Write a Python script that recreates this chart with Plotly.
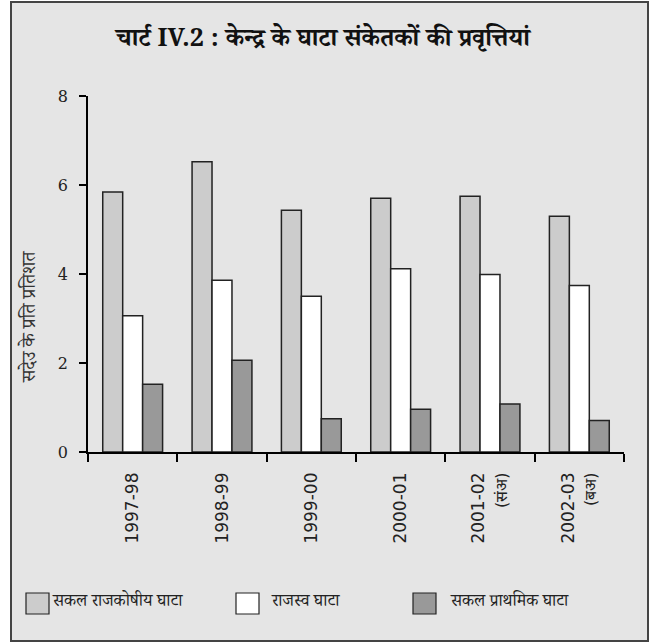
import plotly.graph_objects as go

# ---- data ----
years = ["1997-98", "1998-99", "1999-00", "2000-01", "2001-02", "2002-03"]
notes = ["", "", "", "", "(संअ)", "(बअ)"]
fiscal = [5.84, 6.52, 5.43, 5.70, 5.75, 5.30]
revenue = [3.06, 3.86, 3.50, 4.12, 3.99, 3.74]
primary = [1.52, 2.06, 0.75, 0.96, 1.08, 0.71]
series_names = ["सकल राजकोषीय घाटा", "राजस्व घाटा", "सकल प्राथमिक घाटा"]
y_ticks = [0, 2, 4, 6, 8]
title_text = "चार्ट IV.2 : केन्द्र के घाटा संकेतकों की प्रवृत्तियां"
y_title = "सदेउ के प्रति प्रतिशत"

# ---- style ----
fills = ["#cccccc", "#ffffff", "#999999"]
edge = "#222222"
W, H = 665, 642
ML, MR, MT, MB = 88, 41, 96, 190
PW, PH = W - ML - MR, H - MT - MB
DEV = "Noto Serif Devanagari, Noto Sans Devanagari, Lohit Devanagari, serif"


def px_x(p):
    return (p - ML) / PW


def px_y(p):
    return (H - MB - p) / PH


ticktext = []
for yr, nt in zip(years, notes):
    if nt:
        ticktext.append(yr + "<br><span style='font-size:16px'>" + nt + "</span>")
    else:
        ticktext.append(yr)

fig = go.Figure()
for name, vals, col in zip(series_names, [fiscal, revenue, primary], fills):
    fig.add_trace(go.Bar(x=years, y=vals, name=name, marker=dict(color=col, line=dict(color=edge, width=1.5)),
                         showlegend=False))

shapes = [dict(type="rect", xref="paper", yref="paper", x0=px_x(11), x1=px_x(648), y0=px_y(641), y1=px_y(2),
               fillcolor="#e5e5e5", line=dict(color="#444444", width=2), layer="below")]
annotations = []
legend_box_x = [26, 236, 413]
legend_text_x = [50, 269, 448]
for bx, tx, name, col in zip(legend_box_x, legend_text_x, series_names, fills):
    shapes.append(dict(type="rect", xref="paper", yref="paper", x0=px_x(bx), x1=px_x(bx + 23),
                       y0=px_y(614), y1=px_y(593), fillcolor=col, line=dict(color=edge, width=1.2)))
    annotations.append(dict(text=name, xref="paper", yref="paper", x=px_x(tx), y=px_y(603),
                            xanchor="left", yanchor="middle", showarrow=False,
                            font=dict(family=DEV, size=17, color="#222222")))
annotations.append(dict(text=y_title, xref="paper", yref="paper", x=px_x(32), y=px_y(317), textangle=-90,
                        xanchor="center", yanchor="middle", showarrow=False,
                        font=dict(family=DEV, size=19, color="#333333")))

fig.update_layout(
    width=W, height=H, margin=dict(l=ML, r=MR, t=MT, b=MB, pad=0),
    paper_bgcolor="white", plot_bgcolor="rgba(0,0,0,0)",
    barmode="group", bargap=0.33, bargroupgap=0,
    title=dict(text="<b>" + title_text + "</b>", x=323 / W, y=1 - 37 / H, xanchor="center", yanchor="middle",
               xref="container", yref="container",
               font=dict(family=DEV, size=25, color="#111111")),
    shapes=shapes, annotations=annotations,
    xaxis=dict(type="category", categoryorder="array", categoryarray=years,
               tickvals=years, ticktext=ticktext, tickangle=-90, tickson="boundaries",
               ticks="outside", ticklen=8, tickcolor="black", tickwidth=1.5,
               showline=True, linecolor="black", linewidth=1.5, showgrid=False, zeroline=False,
               ticklabelstandoff=12,
               tickfont=dict(family="DejaVu Sans", size=17, color="#222222")),
    yaxis=dict(range=[0, 8], tickvals=y_ticks, ticks="outside", ticklen=7, tickcolor="black", tickwidth=1.5,
               showline=True, linecolor="black", linewidth=1.5, showgrid=False, zeroline=False,
               ticklabelstandoff=8,
               tickfont=dict(family="DejaVu Serif", size=16, color="#222222")),
)

fig.write_html("out.html")
